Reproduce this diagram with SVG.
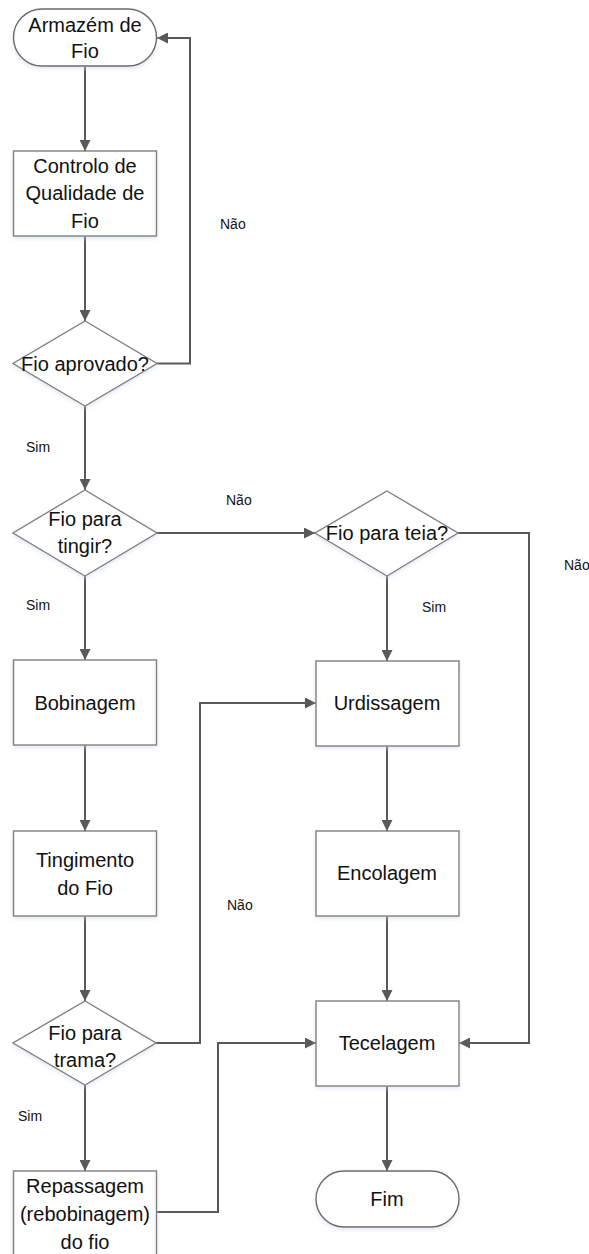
<svg xmlns="http://www.w3.org/2000/svg" width="589" height="1254" viewBox="0 0 589 1254">
  <defs>
    <style>
      .node { fill: #ffffff; stroke: #7f7f7f; stroke-width: 1.4; filter: url(#halo); }
      .term { fill: #ffffff; stroke: #6a6a6a; stroke-width: 1.4; filter: url(#halo); }
      .lbl { font-family: "Liberation Sans", Arial, sans-serif; font-size: 20px; fill: #111111; text-anchor: middle; }
      .small { font-family: "Liberation Sans", Arial, sans-serif; font-size: 14px; fill: #111111; }
      .edge { fill: none; stroke: #595959; stroke-width: 2; }
      .arrow { marker-end: url(#head); }
    </style>
    <marker id="head" viewBox="0 0 10 10" refX="10" refY="5" markerWidth="5.5" markerHeight="5.5" markerUnits="strokeWidth" orient="auto">
      <path d="M0,0 L10,5 L0,10 Z" fill="#595959"/>
    </marker>
    <filter id="halo" x="-10%" y="-10%" width="120%" height="130%">
      <feDropShadow dx="0" dy="2" stdDeviation="2" flood-color="#c7d6ea" flood-opacity="0.55"/>
    </filter>
  </defs>

  <!-- connectors -->
  <g id="connectors">
    <path class="edge arrow" d="M85,66 V151"/>
    <path class="edge arrow" d="M85,236 V321"/>
    <path class="edge arrow" d="M157,363.5 H190 V38 H157"/>
    <path class="edge arrow" d="M85,406 V490"/>
    <path class="edge arrow" d="M157,533 H315"/>
    <path class="edge arrow" d="M458,533 H529 V1043 H459"/>
    <path class="edge arrow" d="M387,576 V661"/>
    <path class="edge arrow" d="M85,576 V660"/>
    <path class="edge arrow" d="M85,745 V831"/>
    <path class="edge arrow" d="M85,916 V1001"/>
    <path class="edge arrow" d="M156,1043 H200 V703 H316"/>
    <path class="edge arrow" d="M85,1085 V1171"/>
    <path class="edge arrow" d="M387,746 V831"/>
    <path class="edge arrow" d="M387,916 V1001"/>
    <path class="edge arrow" d="M157,1212 H218 V1043 H316"/>
    <path class="edge arrow" d="M387,1086 V1171"/>

    <text class="small" x="220" y="229">Não</text>
    <text class="small" x="26" y="452">Sim</text>
    <text class="small" x="226" y="505">Não</text>
    <text class="small" x="26" y="610">Sim</text>
    <text class="small" x="422" y="612">Sim</text>
    <text class="small" x="564" y="570">Não</text>
    <text class="small" x="227" y="910">Não</text>
    <text class="small" x="18" y="1121">Sim</text>
  </g>

  <!-- start terminator -->
  <g id="armazem">
    <rect class="term" x="13.5" y="9" width="143" height="57" rx="28.5" ry="28.5"/>
    <text class="lbl" x="85" y="32">Armazém de</text>
    <text class="lbl" x="85" y="58">Fio</text>
  </g>

  <g id="controlo">
    <rect class="node" x="13.5" y="151" width="143" height="85"/>
    <text class="lbl" x="85" y="173">Controlo de</text>
    <text class="lbl" x="85" y="200">Qualidade de</text>
    <text class="lbl" x="85" y="228">Fio</text>
  </g>

  <g id="fio-aprovado">
    <polygon class="node" points="85,321 157,363.5 85,406 13,363.5"/>
    <text class="lbl" x="85" y="371">Fio aprovado?</text>
  </g>

  <g id="fio-tingir">
    <polygon class="node" points="85,490 157,533 85,576 13,533"/>
    <text class="lbl" x="85" y="526">Fio para</text>
    <text class="lbl" x="85" y="553">tingir?</text>
  </g>

  <g id="fio-teia">
    <polygon class="node" points="387,491 458,533 387,576 315,533"/>
    <text class="lbl" x="387" y="540">Fio para teia?</text>
  </g>

  <g id="bobinagem">
    <rect class="node" x="13.5" y="660" width="143" height="85"/>
    <text class="lbl" x="85" y="710">Bobinagem</text>
  </g>

  <g id="urdissagem">
    <rect class="node" x="316" y="661" width="143" height="85"/>
    <text class="lbl" x="387" y="710">Urdissagem</text>
  </g>

  <g id="tingimento">
    <rect class="node" x="13.5" y="831" width="143" height="85"/>
    <text class="lbl" x="85" y="867">Tingimento</text>
    <text class="lbl" x="85" y="895">do Fio</text>
  </g>

  <g id="encolagem">
    <rect class="node" x="316" y="831" width="143" height="85"/>
    <text class="lbl" x="387" y="880">Encolagem</text>
  </g>

  <g id="fio-trama">
    <polygon class="node" points="85,1001 156,1043 85,1085 13,1043"/>
    <text class="lbl" x="85" y="1040">Fio para</text>
    <text class="lbl" x="85" y="1067">trama?</text>
  </g>

  <g id="tecelagem">
    <rect class="node" x="316" y="1001" width="143" height="85"/>
    <text class="lbl" x="387" y="1050">Tecelagem</text>
  </g>

  <g id="repassagem">
    <rect class="node" x="13.5" y="1171" width="143" height="86"/>
    <text class="lbl" x="85" y="1193">Repassagem</text>
    <text class="lbl" x="85" y="1221">(rebobinagem)</text>
    <text class="lbl" x="85" y="1249">do fio</text>
  </g>

  <!-- end terminator -->
  <g id="fim">
    <rect class="term" x="316" y="1171" width="143" height="56" rx="28" ry="28"/>
    <text class="lbl" x="387" y="1206">Fim</text>
  </g>
</svg>
